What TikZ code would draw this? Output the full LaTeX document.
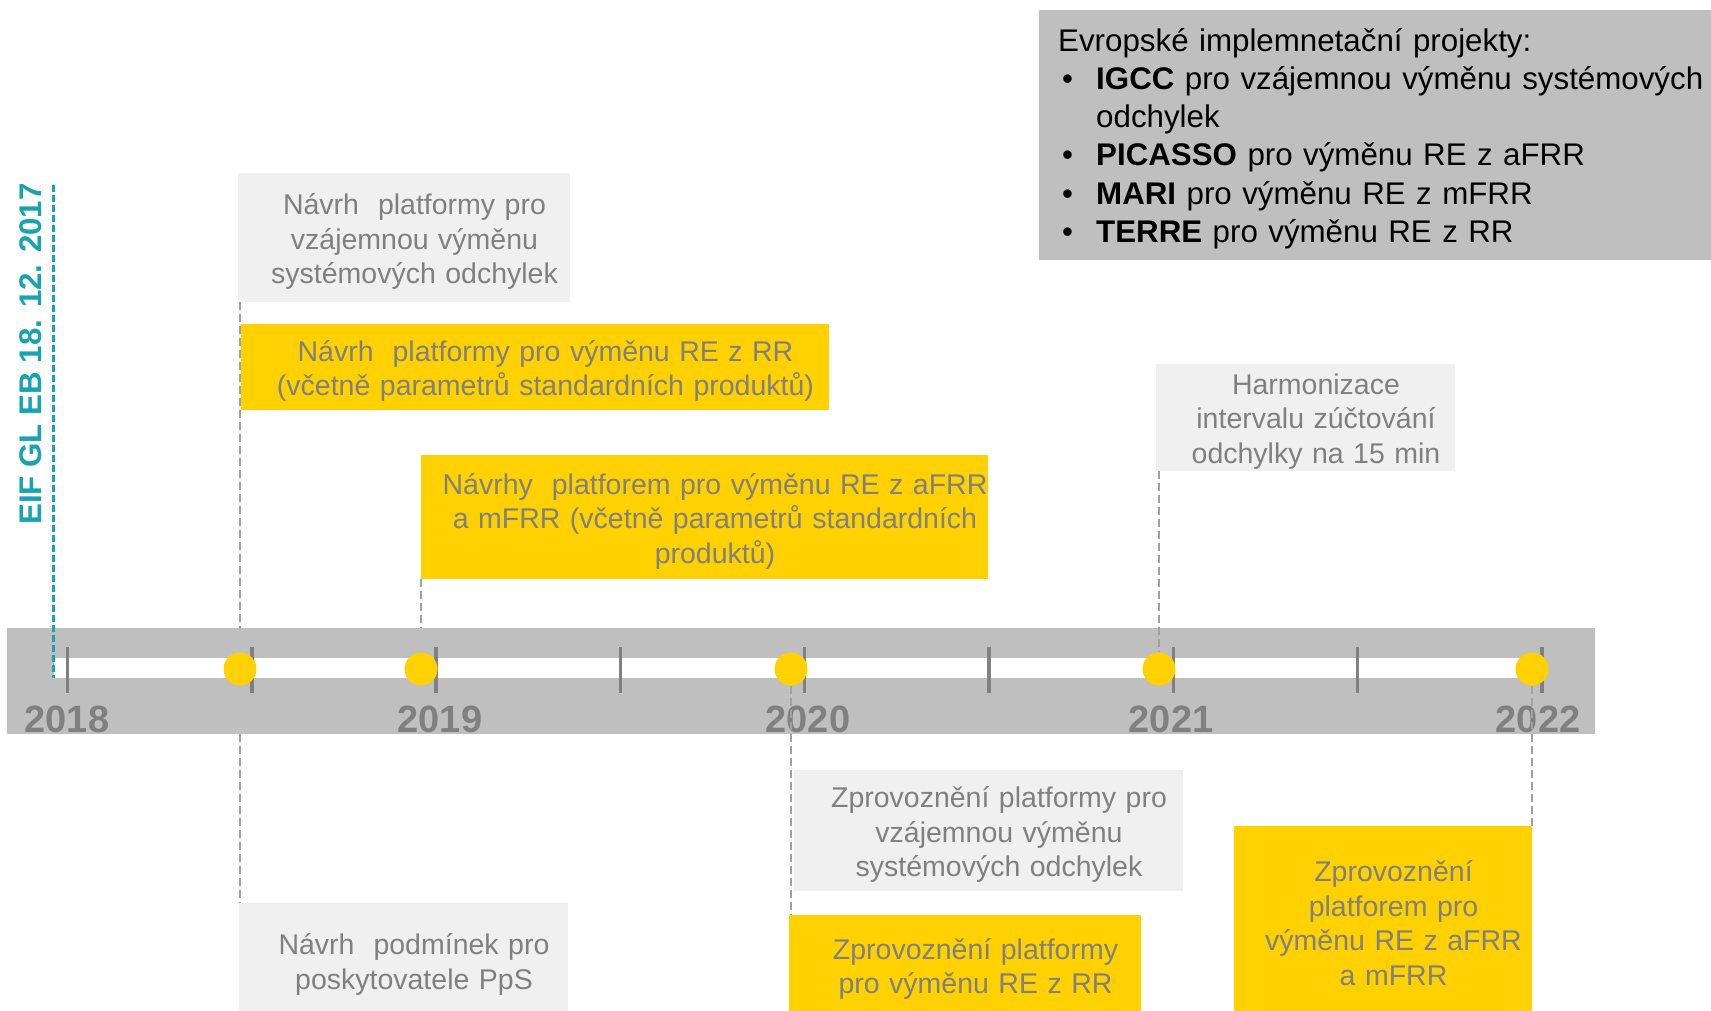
\documentclass[tikz,border=0pt]{standalone}
\usepackage{fontspec}
\setmainfont{Liberation Sans}
\usepackage{tikz}
\usetikzlibrary{calc}
\definecolor{yellow}{rgb}{1.0, 0.82, 0.0}
\definecolor{teal}{rgb}{0.09, 0.64, 0.7}
\definecolor{bar}{rgb}{0.75, 0.75, 0.75}
\definecolor{light}{rgb}{0.94, 0.94, 0.94}
\definecolor{textgray}{rgb}{0.5, 0.5, 0.5}
\definecolor{dashgray}{rgb}{0.63, 0.63, 0.63}

\begin{document}
\begin{tikzpicture}[x=1pt,y=-1pt,
	box/.style={inner sep=0pt,align=center,text=textgray,font=\fontsize{28.5}{34.5}\selectfont,
		execute at begin node={\advance\leftskip by 21pt},execute at end node={\endgraf\vskip-8pt\hrule height 0pt}},
	ybox/.style={box,fill=yellow},
	gbox/.style={box,fill=light},
	dot/.style={circle,fill=yellow,inner sep=0pt,minimum size=33pt},
	link/.style={dashgray,line width=2pt,dash pattern=on 8pt off 4pt},
	tick/.style={textgray,line width=3.5pt},
	year/.style={inner sep=0pt,text=textgray,font=\fontsize{38}{40}\selectfont\bfseries}]
			\useasboundingbox (0,0) rectangle (1711,1010);
			
			\node[fill=bar,inner sep=0pt,minimum width=1588pt,minimum height=106pt] (bar) at (801,681) {};
			\fill[white] (54,658) rectangle (1532,678);
			\foreach \i in {0,...,8}
				\draw[tick] ({67.5+184.3*\i},647) -- ++(0,46);
			\foreach \x/\yr in {67/2018,440/2019,808/2020,1171/2021,1538/2022}
				\node[year,anchor=base] (y\yr) at (\x,732) {\yr};
			
			\coordinate (E1) at (53.5,185);
			\coordinate (E2) at (53.5,678);
			\draw[teal,line width=2.5pt,dash pattern=on 7pt off 3pt] (E1) -- (E2);
			\node[rotate=90,inner sep=0pt,text=teal,font=\fontsize{31.3}{38}\selectfont\bfseries] (eif) at (31,354) {EIF GL EB 18. 12. 2017};
			
			\node[gbox,text width=332pt,minimum height=129pt] (navrhIGCC) at (404,237.5) {Návrh\ \ platformy pro\\vzájemnou výměnu\\systémových odchylek};
			\node[ybox,text width=588pt,minimum height=86pt] (navrhRR) at (535,367) {Návrh\ \ platformy pro výměnu RE z RR\\(včetně parametrů standardních produktů)};
			\node[ybox,text width=567pt,minimum height=124pt] (navrhFRR) at (704.5,517) {Návrhy\ \ platforem pro výměnu RE z aFRR\\a mFRR (včetně parametrů standardních\\produktů)};
			\node[gbox,text width=299pt,minimum height=107pt] (harmon) at (1305.5,417.5) {Harmonizace\\intervalu zúčtování\\odchylky na 15 min};
			\node[gbox,text width=389pt,minimum height=121pt] (provIGCC) at (988.5,830.5) {Zprovoznění platformy pro\\vzájemnou výměnu\\systémových odchylek};
			\node[ybox,text width=352pt,minimum height=100pt] (provRR) at (965,965) {Zprovoznění platformy\\pro výměnu RE z RR};
			\node[ybox,text width=298pt,minimum height=186pt] (provFRR) at (1383,919) {Zprovoznění\\platforem pro\\výměnu RE z aFRR\\a mFRR};
			\node[gbox,text width=329pt,minimum height=115pt] (navrhPpS) at (403.5,960.5) {Návrh\ \ podmínek pro\\poskytovatele PpS};
			
			\node[fill=bar,anchor=north west,inner xsep=19pt,inner ysep=0pt,text width=660pt,align=left,text height=41pt,text depth=209pt,font=\fontsize{31.3}{38.2}\selectfont] (legenda) at (1039,10) {Evropské implemnetační projekty:\\
				\makebox[38pt][l]{\hspace{4pt}•}\textbf{IGCC} pro vzájemnou výměnu systémových\\
				\hspace*{38pt}odchylek\\
				\makebox[38pt][l]{\hspace{4pt}•}\textbf{PICASSO} pro výměnu RE z aFRR\\
				\makebox[38pt][l]{\hspace{4pt}•}\textbf{MARI} pro výměnu RE z mFRR\\
				\makebox[38pt][l]{\hspace{4pt}•}\textbf{TERRE} pro výměnu RE z RR};
			
			\node[dot] (d1) at (240,669) {};
			\node[dot] (d2) at (421,669) {};
			\node[dot] (d3) at (791,669) {};
			\node[dot] (d4) at (1159,669) {};
			\node[dot] (d5) at (1532,669) {};
			
			\draw[link] (d1 |- navrhIGCC.south) -- (d1 |- bar.north);
			\draw[link] (d1 |- bar.south) -- (d1 |- navrhPpS.north);
			\draw[link] (d2 |- navrhFRR.south) -- (d2 |- bar.north);
			\draw[link] (d3.south) -- (d3 |- provRR.north);
			\draw[link] (d4 |- harmon.south) -- (d4.north);
			\draw[link] (d5.south) -- (d5 |- provFRR.north);
\end{tikzpicture}
\end{document}
